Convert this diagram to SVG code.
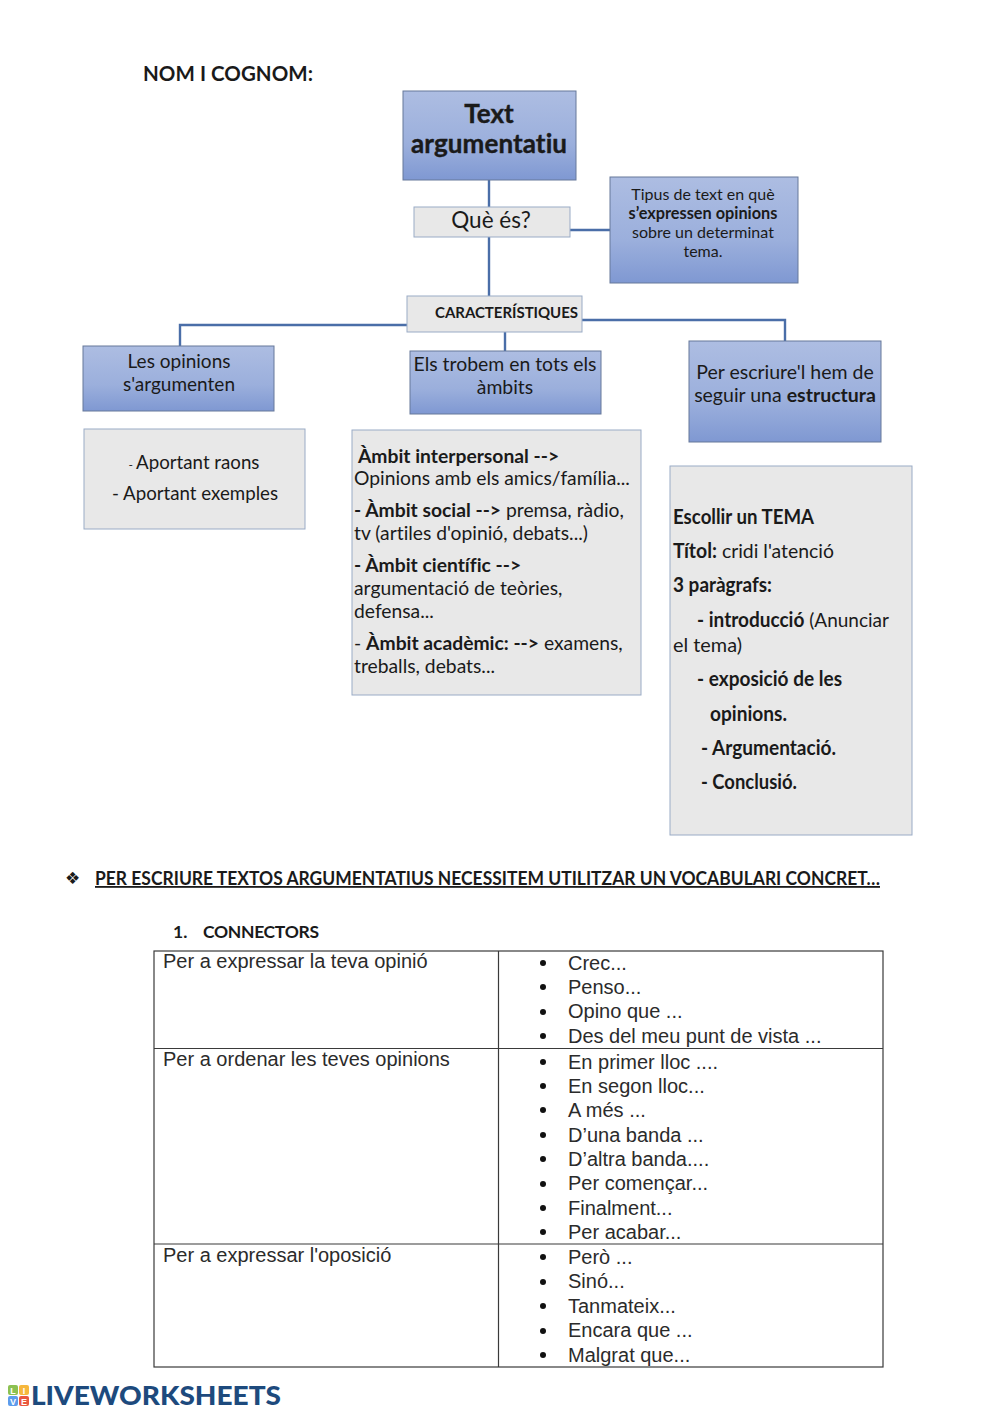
<svg xmlns="http://www.w3.org/2000/svg" width="1000" height="1413" viewBox="0 0 1000 1413">
<defs>
<linearGradient id="blue" x1="0" y1="0" x2="0" y2="1"><stop offset="0" stop-color="#adbde2"/><stop offset="0.6" stop-color="#9bafdc"/><stop offset="1" stop-color="#7f98d2"/></linearGradient>
</defs>
<style>
text{font-family:Lato,"Open Sans","Liberation Sans",sans-serif;fill:#1a1a1a;font-variant-ligatures:none}
.b{font-weight:700}
.blue{fill:url(#blue);stroke:#66789a;stroke-width:1}
.grey{fill:#e8e8e8;stroke:#9aabc6;stroke-width:1}
.m{text-anchor:middle}
.c{fill:none;stroke:#4a6ea8;stroke-width:2.4}
.f19{font-size:19px}
.t{font-family:"Liberation Sans",Arial,sans-serif;font-size:20px;fill:#2b2b2b}
.d{font-family:"Liberation Sans",Arial,sans-serif;font-size:20px;fill:#2b2b2b}
.grid{fill:none;stroke:#3a3a3a;stroke-width:1.2}
</style>
<rect width="1000" height="1413" fill="#fff"/>
<text id="nom" class="b" x="143" y="81" font-size="20.5" textLength="170">NOM I COGNOM:</text>
<g id="connectors">
<path class="c" d="M489 180V296"/>
<path class="c" d="M570 230H611"/>
<path class="c" d="M407 325H180V346"/>
<path class="c" d="M505 332V351"/>
<path class="c" d="M582 320H785V341"/>
</g>
<g id="n-text"><rect class="blue" x="403" y="91" width="173" height="89"/>
<text class="b m" x="489" y="123" font-size="26" stroke="#1a1a1a" stroke-width="0.4">Text</text><text class="b m" x="489" y="153" font-size="26" textLength="156" stroke="#1a1a1a" stroke-width="0.4">argumentatiu</text></g>
<g id="n-que"><rect class="grey" x="414" y="207" width="156" height="30"/><text class="m" x="491" y="228" font-size="22.5">Què és?</text></g>
<g id="n-tipus"><rect class="blue" x="610" y="177" width="188" height="106"/>
<text class="m" x="703" y="200" font-size="16">Tipus de text en què</text>
<text class="m b" x="703" y="219" font-size="16.300">s’expressen opinions</text>
<text class="m" x="703" y="238" font-size="16">sobre un determinat</text>
<text class="m" x="703" y="257" font-size="16">tema.</text></g>
<g id="n-carac"><rect class="grey" x="407" y="296" width="175" height="36"/><text class="b" x="435" y="318" font-size="15" textLength="143">CARACTERÍSTIQUES</text></g>
<g id="n-op"><rect class="blue" x="83" y="346" width="191" height="65"/>
<text class="m f19" x="179" y="368">Les opinions</text><text class="m f19" x="179" y="391">s'argumenten</text></g>
<g id="n-ambits"><rect class="blue" x="410" y="351" width="191" height="63"/>
<text class="m" font-size="19.400" x="505" y="371">Els trobem en tots els</text><text class="m" font-size="19.400" x="505" y="394">àmbits</text></g>
<g id="n-escr"><rect class="blue" x="689" y="341" width="192" height="101"/>
<text class="m" x="785" y="379" font-size="19.500">Per escriure'l hem de</text>
<text class="m" x="785" y="402" font-size="19.500">seguir una <tspan class="b">estructura</tspan></text></g>
<g id="n-raons"><rect class="grey" x="84" y="429" width="221" height="100"/>
<text class="m" font-size="18.700" x="194" y="469"><tspan font-size="12">- </tspan>Aportant raons</text>
<text class="m" font-size="18.700" x="195" y="500">- Aportant exemples</text></g>
<g id="n-interp"><rect class="grey" x="352" y="430" width="289" height="265"/>
<g font-size="19.300">
<text class="b" x="358" y="463">Àmbit interpersonal --&gt;</text>
<text x="354" y="485">Opinions amb els amics/família...</text>
<text x="354" y="517"><tspan class="b">- Àmbit social --&gt;</tspan> premsa, ràdio,</text>
<text x="354" y="540">tv (artiles d'opinió, debats...)</text>
<text x="354" y="572"><tspan class="b">- Àmbit científic --&gt;</tspan></text>
<text x="354" y="595">argumentació de teòries,</text>
<text x="354" y="618">defensa...</text>
<text x="354" y="650">- <tspan class="b">Àmbit acadèmic: --&gt;</tspan> examens,</text>
<text x="354" y="673">treballs, debats...</text>
</g></g>
<g id="n-tema"><rect class="grey" x="670" y="466" width="242" height="369"/>
<g font-size="20">
<text class="b" x="673" y="524" textLength="141" lengthAdjust="spacingAndGlyphs">Escollir un TEMA</text>
<text x="673" y="558" textLength="161" lengthAdjust="spacingAndGlyphs"><tspan class="b">Títol:</tspan> cridi l'atenció</text>
<text class="b" x="673" y="592" textLength="99" lengthAdjust="spacingAndGlyphs">3 paràgrafs:</text>
<text x="697" y="627" textLength="192" lengthAdjust="spacingAndGlyphs"><tspan class="b">- introducció</tspan> (Anunciar</text>
<text x="673" y="652" textLength="69" lengthAdjust="spacingAndGlyphs">el tema)</text>
<text class="b" x="697" y="686" textLength="145" lengthAdjust="spacingAndGlyphs">- exposició de les</text>
<text class="b" x="710" y="721" textLength="77" lengthAdjust="spacingAndGlyphs">opinions.</text>
<text class="b" x="701" y="755" textLength="135" lengthAdjust="spacingAndGlyphs">- Argumentació.</text>
<text class="b" x="701" y="789" textLength="96" lengthAdjust="spacingAndGlyphs">- Conclusió.</text>
</g></g>
<text id="diamond" x="65" y="884" font-size="17" style="font-family:'DejaVu Sans',sans-serif">❖</text>
<text id="head" class="b" x="95" y="885" font-size="18" text-decoration="underline" textLength="785" lengthAdjust="spacingAndGlyphs">PER ESCRIURE TEXTOS ARGUMENTATIUS NECESSITEM UTILITZAR UN VOCABULARI CONCRET…</text>
<text id="conn" class="b" x="173" y="938" font-size="17.500">1.</text>
<text class="b" x="203" y="938" font-size="17.500" textLength="116">CONNECTORS</text>
<g id="table">
<rect class="grid" x="154" y="951" width="729" height="416"/>
<path class="grid" d="M498.500 951V1367M154 1048.500H883M154 1244H883"/>
<text class="d" x="163" y="968">Per a expressar la teva opinió</text>
<text class="d" x="163" y="1066">Per a ordenar les teves opinions</text>
<text class="d" x="163" y="1262">Per a expressar l'oposició</text>
<g class="items">
<text class="t" x="568" y="970">Crec...</text>
<text class="t" x="568" y="994">Penso...</text>
<text class="t" x="568" y="1018">Opino que ...</text>
<text class="t" x="568" y="1043">Des del meu punt de vista ...</text>
<text class="t" x="568" y="1069">En primer lloc ....</text>
<text class="t" x="568" y="1093">En segon lloc...</text>
<text class="t" x="568" y="1117">A més ...</text>
<text class="t" x="568" y="1142">D’una banda ...</text>
<text class="t" x="568" y="1166">D’altra banda....</text>
<text class="t" x="568" y="1190">Per començar...</text>
<text class="t" x="568" y="1215">Finalment...</text>
<text class="t" x="568" y="1239">Per acabar...</text>
<text class="t" x="568" y="1264">Però ...</text>
<text class="t" x="568" y="1288">Sinó...</text>
<text class="t" x="568" y="1313">Tanmateix...</text>
<text class="t" x="568" y="1337">Encara que ...</text>
<text class="t" x="568" y="1362">Malgrat que...</text>
</g>
<g fill="#111">
<circle cx="543" cy="963" r="3"/><circle cx="543" cy="987" r="3"/><circle cx="543" cy="1012" r="3"/><circle cx="543" cy="1036" r="3"/>
<circle cx="543" cy="1062" r="3"/><circle cx="543" cy="1086" r="3"/><circle cx="543" cy="1110" r="3"/><circle cx="543" cy="1135" r="3"/><circle cx="543" cy="1159" r="3"/><circle cx="543" cy="1184" r="3"/><circle cx="543" cy="1208" r="3"/><circle cx="543" cy="1232" r="3"/>
<circle cx="543" cy="1257" r="3"/><circle cx="543" cy="1282" r="3"/><circle cx="543" cy="1306" r="3"/><circle cx="543" cy="1331" r="3"/><circle cx="543" cy="1355" r="3"/>
</g>
</g>
<g id="logo">
<rect x="8" y="1385" width="10" height="10" rx="2" fill="#8cc152"/>
<rect x="19" y="1385" width="10" height="10" rx="2" fill="#f6b73c"/>
<rect x="8" y="1396" width="10" height="10" rx="2" fill="#5d9cec"/>
<rect x="19" y="1396" width="10" height="10" rx="2" fill="#e9573f"/>
<g font-size="9" font-weight="700" text-anchor="middle" style="font-family:'Liberation Sans',sans-serif">
<text x="13" y="1393.500" style="fill:#fff;font-family:'Liberation Sans',sans-serif">L</text><text x="24" y="1393.500" style="fill:#fff;font-family:'Liberation Sans',sans-serif">I</text><text x="13" y="1404.500" style="fill:#fff;font-family:'Liberation Sans',sans-serif">V</text><text x="24" y="1404.500" style="fill:#fff;font-family:'Liberation Sans',sans-serif">E</text></g>
<text x="31" y="1405" font-size="27" font-weight="900" textLength="250" lengthAdjust="spacingAndGlyphs" style="fill:#1d4a7d">LIVEWORKSHEETS</text>
</g>
</svg>
